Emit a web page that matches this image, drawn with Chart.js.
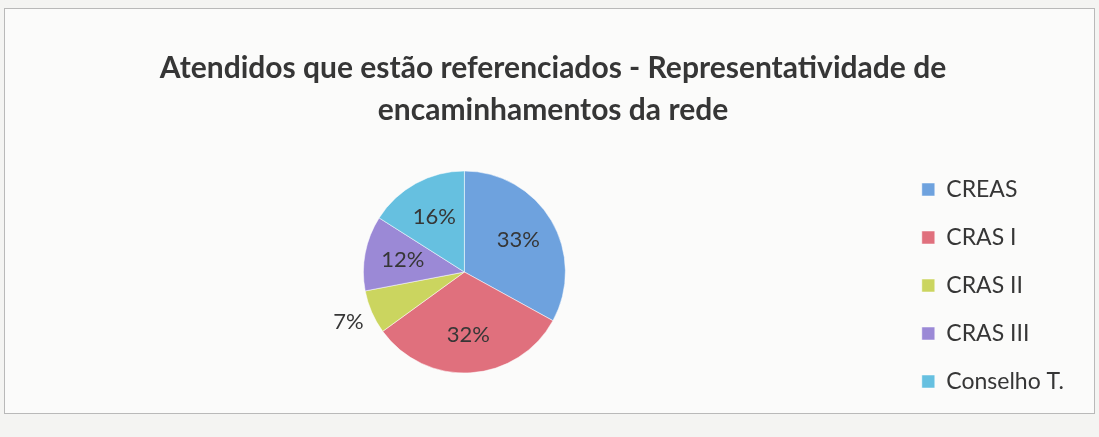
<!DOCTYPE html>
<html lang="pt">
<head>
<meta charset="utf-8">
<title>Atendidos que estão referenciados</title>
<script src="https://cdn.jsdelivr.net/npm/chart.js@4"></script>
<style>
  html, body { margin: 0; padding: 0; background: #f4f4f2; }
  #frame {
    position: absolute; left: 4px; top: 8px; width: 1089px; height: 404px;
    background: #fbfbfa; border: 1px solid #b9b9b9;
  }
  #wrap { position: absolute; left: 0; top: 0; width: 1099px; height: 437px; }
</style>
</head>
<body>
<div id="frame"></div>
<div id="wrap"><canvas id="chart" width="1099" height="437"></canvas></div>
<script>
// ── Data ───────────────────────────────────────────────────────────────────────

const categories = ["CREAS", "CRAS I", "CRAS II", "CRAS III", "Conselho T."];
const shares     = [33, 32, 7, 12, 16];
const sliceColors = ["#6ea2de", "#e0707d", "#cbd55f", "#9b89d6", "#66c0e0"];
const titleLines = [
  "Atendidos que estão referenciados - Representatividade de",
  "encaminhamentos da rede",
];

const TEXT_COLOR = "#363636";
const FONT = "Lato, 'Open Sans', sans-serif";

// legend sits lower / further left than Chart.js puts it by default
const LEGEND_DX = -22;
const LEGEND_DY = 74;

// ── Percent labels (inside, small slices outside) ─────────────────────────────

const pieLabels = {
  id: "pieLabels",
  afterDatasetsDraw(chart) {
    const { ctx } = chart;
    const meta = chart.getDatasetMeta(0);
    ctx.save();
    ctx.font = `22px ${FONT}`;
    ctx.fillStyle = TEXT_COLOR;
    ctx.textAlign = "center";
    ctx.textBaseline = "middle";
    meta.data.forEach((arc, i) => {
      const { x, y, startAngle, endAngle, outerRadius } = arc.getProps(
        ["x", "y", "startAngle", "endAngle", "outerRadius"], true);
      const mid = (startAngle + endAngle) / 2;
      const f = shares[i] < 10 ? 1.25 : 0.62;
      ctx.fillText(`${shares[i]}%`,
        x + Math.cos(mid) * outerRadius * f,
        y + Math.sin(mid) * outerRadius * f);
    });
    ctx.restore();
  },
};

const legendNudge = {
  id: "legendNudge",
  afterLayout(chart) {
    const lg = chart.legend;
    if (!lg) return;
    lg.left += LEGEND_DX; lg.right += LEGEND_DX;
    lg.top += LEGEND_DY;  lg.bottom += LEGEND_DY;
  },
};

// ── Chart ──────────────────────────────────────────────────────────────────────

new Chart(document.getElementById("chart"), {
  type: "pie",
  data: {
    labels: categories,
    datasets: [{
      data: shares,
      backgroundColor: sliceColors,
      borderColor: "#ffffff",
      borderWidth: 0.5,
    }],
  },
  plugins: [pieLabels, legendNudge],
  options: {
    responsive: false,
    animation: false,
    radius: 101,
    layout: { padding: { left: 10, right: 3, top: 10, bottom: 24 } },
    plugins: {
      tooltip: { enabled: false },
      title: {
        display: true,
        text: titleLines,
        color: TEXT_COLOR,
        font: { family: FONT, size: 30, weight: "bold", lineHeight: 1.4 },
        padding: { top: 37, bottom: 0 },
      },
      legend: {
        position: "right",
        labels: {
          color: TEXT_COLOR,
          font: { family: FONT, size: 23 },
          boxWidth: 13,
          boxHeight: 13,
          padding: 25,
        },
      },
    },
  },
});
</script>
</body>
</html>
